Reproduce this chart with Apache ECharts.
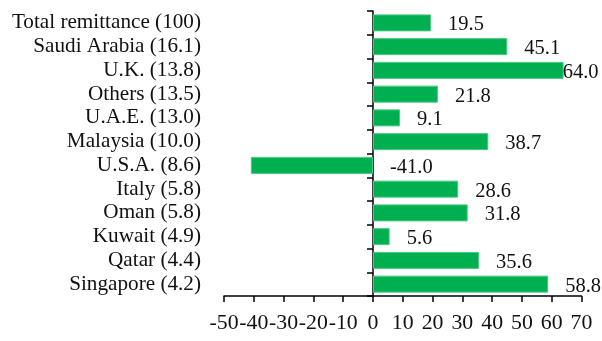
<!DOCTYPE html>
<html>
<head>
<meta charset="utf-8">
<script src="https://cdn.jsdelivr.net/npm/echarts@6/dist/echarts.min.js"></script>
<style>
  html, body { margin: 0; padding: 0; background: #ffffff; }
  #chart { width: 602px; height: 341px; }
</style>
</head>
<body>
<div id="chart"></div>
<script>
// Remittance growth by source country (share of total in parentheses)
const categories = [
  'Total remittance (100)',
  'Saudi Arabia (16.1)',
  'U.K. (13.8)',
  'Others (13.5)',
  'U.A.E. (13.0)',
  'Malaysia (10.0)',
  'U.S.A. (8.6)',
  'Italy (5.8)',
  'Oman (5.8)',
  'Kuwait (4.9)',
  'Qatar (4.4)',
  'Singapore (4.2)'
];
const growth = [19.5, 45.1, 64.0, 21.8, 9.1, 38.7, -41.0, 28.6, 31.8, 5.6, 35.6, 58.8];
const axisMin = -50;
const axisMax = 70;
const axisStep = 10;

const serif = "'Liberation Serif', 'Times New Roman', serif";
const textColor = '#111111';

// Labels sit to the right of each bar; the longest one is pulled in to stay on the canvas
const barData = growth.map(function (v) {
  const item = { value: v };
  if (v === Math.max.apply(null, growth)) {
    item.label = { distance: -1 };
  }
  return item;
});

const chart = echarts.init(document.getElementById('chart'), null, { renderer: 'canvas' });
chart.setOption({
  animation: false,
  backgroundColor: '#ffffff',
  grid: {
    left: 224, right: 20.5, top: 11, bottom: 45,
    containLabel: false,
    outerBoundsMode: 'none'
  },
  xAxis: {
    type: 'value',
    min: axisMin,
    max: axisMax,
    interval: axisStep,
    axisLine: { show: true, lineStyle: { color: '#000000', width: 1.5 } },
    axisTick: { show: true, length: 6, lineStyle: { color: '#000000', width: 1.5 } },
    splitLine: { show: false },
    axisLabel: {
      margin: 16,
      hideOverlap: false,
      showMinLabel: true,
      showMaxLabel: true,
      color: textColor,
      fontFamily: serif,
      fontSize: 21.8
    }
  },
  yAxis: {
    type: 'category',
    inverse: true,
    data: categories,
    axisLine: { show: true, onZero: true, lineStyle: { color: '#000000', width: 1.5 } },
    axisTick: { show: true, length: 6, alignWithLabel: false, lineStyle: { color: '#000000', width: 1.5 } },
    splitLine: { show: false },
    axisLabel: {
      interval: 0,
      hideOverlap: false,
      margin: 23,
      color: textColor,
      fontFamily: serif,
      fontSize: 21.2
    }
  },
  series: [{
    type: 'bar',
    data: barData,
    barWidth: 17,
    itemStyle: { color: '#00b050', borderColor: '#4cc983', borderWidth: 1 },
    label: {
      show: true,
      position: 'right',
      distance: 17,
      color: textColor,
      fontFamily: serif,
      fontSize: 20.5,
      offset: [0, 2],
      formatter: function (p) { return p.value.toFixed(1); }
    }
  }]
});
</script>
</body>
</html>
